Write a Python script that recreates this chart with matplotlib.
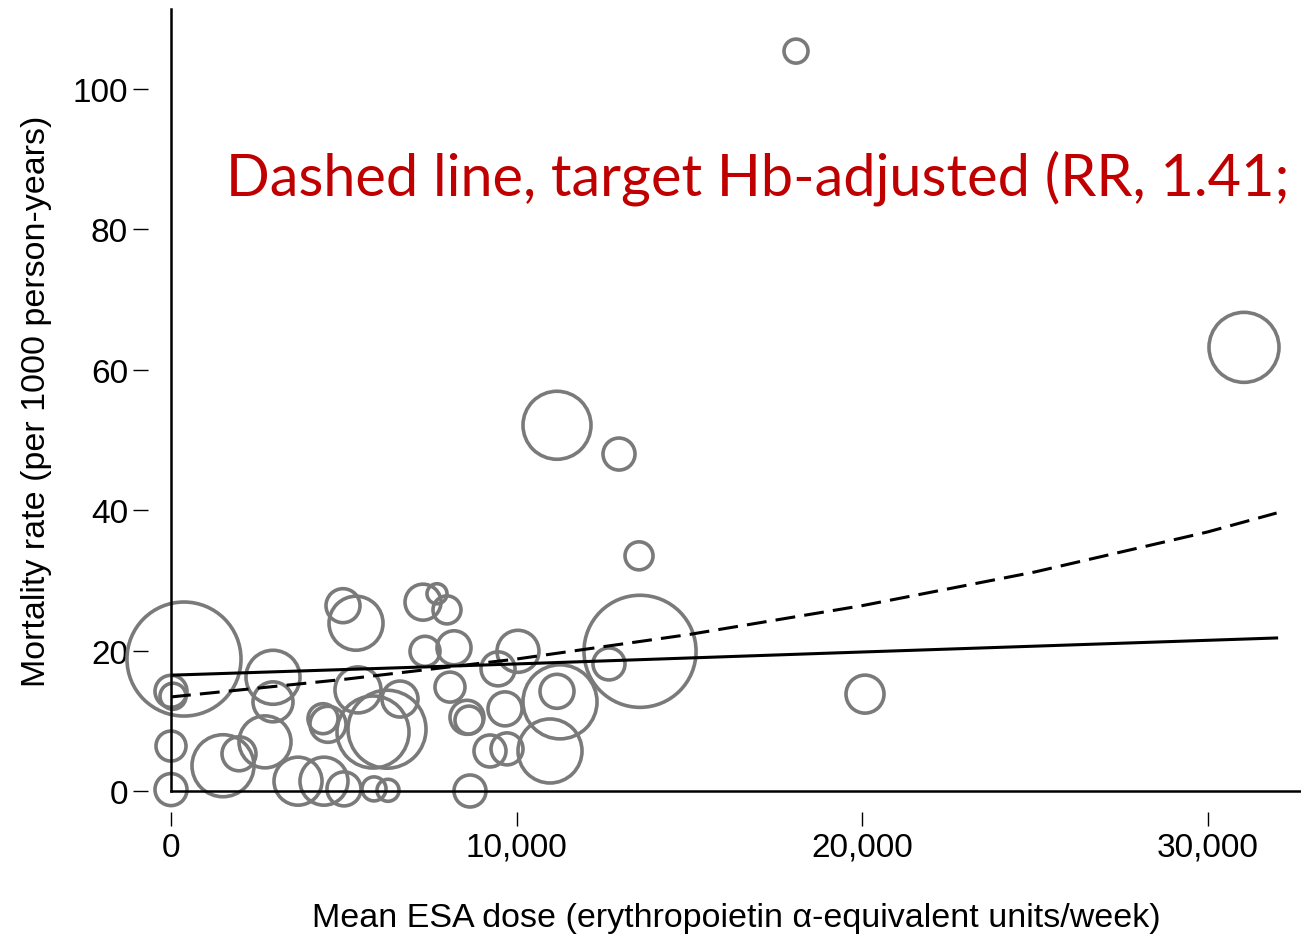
import matplotlib
matplotlib.use("Agg")
import matplotlib.pyplot as plt
import matplotlib.ticker as ticker

plt.rcParams['font.family'] = ['Liberation Sans', 'DejaVu Sans']

# --- data ---------------------------------------------------------------------
# mean ESA dose (units/week), mortality rate (per 1000 py), relative study weight
dose = [18090, 31056, 11172, 12967, 13546, 20087, 13575, 12677, 376, 0,
        58, 0, 0, 1505, 1968, 2721, 2952, 2952, 3676, 4428,
        5007, 5876, 6281, 4978, 5355, 5412, 4399, 4544, 5847, 6252,
        6628, 7294, 7699, 7988, 7352, 8191, 8075, 8567, 8625, 8654,
        10043, 9465, 9667, 11172, 11259, 9233, 9725, 10970]
rate = [105.4, 63.2, 52.1, 48.0, 33.5, 13.8, 19.9, 18.1, 18.8, 14.2,
        13.5, 6.4, 0.2, 3.6, 5.3, 7.0, 16.2, 12.7, 1.4, 1.4,
        0.3, 0.3, 0.1, 26.4, 23.9, 14.4, 10.3, 9.5, 8.4, 8.8,
        13.1, 26.9, 28.1, 25.8, 19.9, 20.4, 14.8, 10.5, 10.1, 0.0,
        19.9, 17.4, 11.7, 14.2, 12.7, 5.7, 6.0, 5.7]
weight = [1.44, 12.25, 11.56, 2.56, 1.96, 3.61, 31.4, 2.56, 32.5, 2.56,
          1.69, 2.25, 2.56, 9.61, 2.89, 6.76, 7.29, 4.0, 5.76, 5.76,
          2.89, 1.44, 1.21, 2.89, 7.29, 5.29, 2.25, 3.24, 12.96, 15.2,
          3.24, 3.24, 1.0, 1.96, 2.25, 2.89, 2.25, 2.89, 1.96, 2.56,
          4.41, 2.89, 2.89, 2.89, 13.7, 2.56, 2.56, 10.24]

# fitted lines
fit_dose = [0, 10000, 20000, 32000]
fit_unadj = [16.5, 18.1, 19.8, 21.8]
adj_dose = [0, 5000, 10000, 15000, 20000, 25000, 30000, 32000]
fit_adj = [13.4, 15.9, 18.8, 22.3, 26.4, 31.2, 36.9, 39.6]

x_ticks = [0, 10000, 20000, 30000]
y_ticks = [0, 20, 40, 60, 80, 100]
note = "Dashed line, target Hb-adjusted (RR, 1.41;"

# --- figure -------------------------------------------------------------------
fig = plt.figure(figsize=(13.01, 9.37), dpi=100)
ax = fig.add_axes([171 / 1301, 145 / 937, 1130 / 1301, 782 / 937])
ax.set_xlim(0, 32706)
ax.set_ylim(0, 111.4)

ax.scatter(dose, rate, s=[w * 207.4 for w in weight], facecolors="none",
           edgecolors="#7a7a7a", linewidths=2.6, clip_on=False, zorder=2)
ax.plot(fit_dose, fit_unadj, color="black", lw=2.2, zorder=3)
ax.plot(adj_dose, fit_adj, color="black", lw=2.2, dashes=(6.5, 3), zorder=3)

# Stata-like detached ticks: move invisible spines outward, draw axis lines at 0
for side in ("top", "right"):
    ax.spines[side].set_visible(False)
ax.spines["left"].set_position(("outward", 16.5))
ax.spines["bottom"].set_position(("outward", 15))
ax.spines["left"].set_visible(False)
ax.spines["bottom"].set_visible(False)
ax.axvline(0, color="black", lw=1.8, clip_on=False, zorder=4)
ax.axhline(0, color="black", lw=1.8, clip_on=False, zorder=4)

ax.set_xticks(x_ticks)
ax.set_yticks(y_ticks)
ax.xaxis.set_major_formatter(ticker.FuncFormatter(lambda v, p: f"{int(v):,}"))
ax.tick_params(axis="y", length=10.8, width=1.0, pad=3.6, labelsize=24)
ax.tick_params(axis="x", length=10, width=1.0, pad=4.3, labelsize=24)

ax.set_xlabel("Mean ESA dose (erythropoietin \u03b1-equivalent units/week)", fontsize=24.5)
ax.set_ylabel("Mortality rate (per 1000 person-years)", fontsize=24.5)
ax.xaxis.set_label_coords(0.5, -0.142)
ax.yaxis.set_label_coords(-0.105, 0.5)

ax.text(55 / 1130, (792 - 196) / 782, note, transform=ax.transAxes,
        fontsize=41.5, color="#c00000", family="Lato", clip_on=False)

fig.savefig("out.png", dpi=100)
